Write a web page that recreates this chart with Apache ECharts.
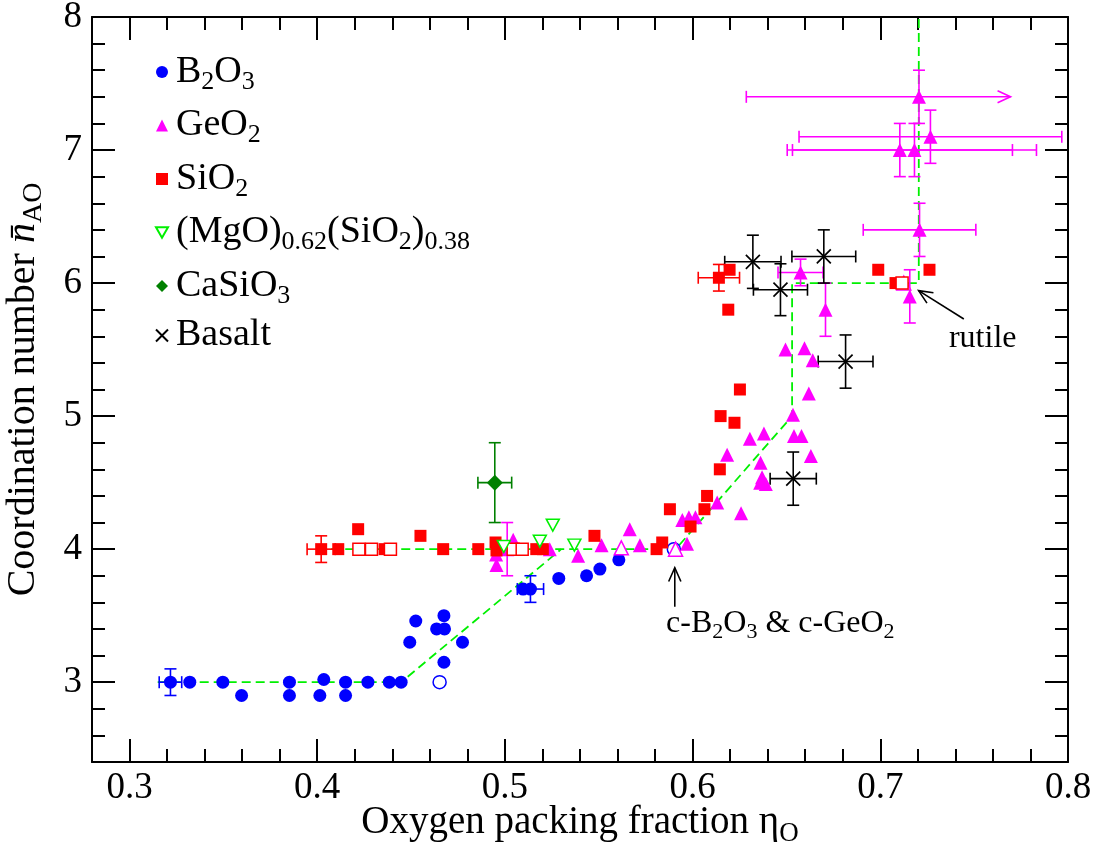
<!DOCTYPE html>
<html><head><meta charset="utf-8">
<script src="https://cdn.jsdelivr.net/npm/echarts@6/dist/echarts.min.js"></script>
<style>html,body{margin:0;padding:0;background:#fff}#c{width:1099px;height:854px}</style>
</head><body><div id="c"></div>
<script>
// ---------- data (x = oxygen packing fraction, y = coordination number) ----------
const b2o3 = [[0.3218,3.0],[0.3321,3.0],[0.3497,3.0],[0.3597,2.9],[0.3852,3.0],[0.3852,2.9],[0.4035,3.02],[0.4014,2.9],
  [0.4151,3.0],[0.4151,2.9],[0.427,3.0],[0.4384,3.0],[0.4447,3.0],[0.4493,3.3],[0.4525,3.46],[0.4636,3.4],[0.4678,3.4],
  [0.4675,3.5],[0.4774,3.3],[0.4675,3.15],[0.5097,3.7],[0.5136,3.7],[0.5287,3.78],[0.5435,3.8],[0.5506,3.85],[0.5607,3.92]];
const b2o3Open = [[0.4652,3.0],[0.590,4.0]];
const b2o3Err = [[0.3218,3.0,0.006,0.006,0.1,0.1,0],[0.5136,3.7,0.007,0.007,0.1,0.1,0]];

const geo2 = [[0.4955,3.88],[0.4953,3.96],[0.5044,4.07],[0.5012,4.0],[0.5239,4.0],[0.539,3.95],[0.5515,4.03],[0.5665,4.15],
  [0.5719,4.03],[0.597,4.04],[0.5945,4.22],[0.598,4.24],[0.6015,4.24],[0.6131,4.35],[0.6184,4.71],[0.6258,4.27],[0.6305,4.83],
  [0.638,4.87],[0.6362,4.65],[0.637,4.54],[0.636,4.5],[0.639,4.49],[0.6535,5.01],[0.654,4.85],[0.658,4.85],[0.663,4.7],
  [0.6495,5.5],[0.6596,5.51],[0.664,5.42],[0.6619,5.17],
  [0.7206,7.4],[0.7104,7.0],[0.7182,7.0],[0.7267,7.1],[0.7209,6.4],[0.7157,5.9],[0.6708,5.8],[0.6575,6.08]];
const geo2Open = [[0.562,4.01],[0.5909,4.0],[0.7125,6.0]];
const geo2Err = [[0.7206,7.4,0.092,0.0488,0.2,0.2,1],[0.7104,7.0,0.06,0.06,0.2,0.2,0],[0.7182,7.0,0.065,0.065,0.2,0.2,0],
  [0.7267,7.1,0.07,0.07,0.2,0.2,0],[0.7209,6.4,0.03,0.03,0.2,0.2,0],[0.7157,5.9,0,0,0.2,0.2,0],[0.6708,5.8,0,0,0.2,0.2,0],
  [0.6575,6.08,0.012,0.012,0.1,0.1,0],[0.5012,4.0,0,0,0.2,0.2,0]];

const sio2 = [[0.4021,4.0],[0.4112,4.0],[0.4218,4.15],[0.4359,4.0],[0.455,4.1],[0.4671,4.0],[0.4858,4.0],[0.495,4.05],
  [0.4955,3.99],[0.5167,4.0],[0.5202,4.0],[0.5477,4.1],[0.5808,4.0],[0.5838,4.05],[0.5879,4.3],[0.5989,4.17],[0.6063,4.3],
  [0.6077,4.4],[0.6145,4.6],[0.6149,5.0],[0.6223,4.95],[0.6252,5.2],[0.614,6.04],[0.6197,6.1],[0.619,5.8],[0.6989,6.1],
  [0.7081,6.0],[0.7262,6.1]];
const sio2Open = [[0.4222,4.0],[0.4289,4.0],[0.439,4.0],[0.5044,4.0],[0.5092,4.0],[0.7116,6.0]];
const sio2Err = [[0.4021,4.0,0.0075,0.0075,0.1,0.1,0],[0.614,6.04,0.011,0.011,0.1,0.1,0]];

const mgsio = [[0.4994,4.02],[0.5186,4.06],[0.5255,4.18],[0.537,4.03]];

const casio3 = [[0.4946,4.5]];
const casio3Err = [[0.4946,4.5,0.009,0.009,0.3,0.3,0]];

const basalt = [[0.6321,6.16],[0.6468,5.95],[0.6699,6.2],[0.6815,5.41],[0.6536,4.53]];
const basaltErr = [[0.6321,6.16,0.015,0.015,0.2,0.2,0],[0.6468,5.95,0.0144,0.0144,0.195,0.195,0],
  [0.6699,6.2,0.017,0.017,0.2,0.2,0],[0.6815,5.41,0.0146,0.0146,0.2,0.2,0],[0.6536,4.53,0.0123,0.0123,0.2,0.2,0]];

const guideLow = [[0.315,3.0],[0.4447,3.0],[0.53,4.0]];
const guideHigh = [[0.40,4.0],[0.591,4.0],[0.653,5.0],[0.653,6.0],[0.7205,6.0],[0.7205,8.0]];

const arrows = [[0.5905,3.567,0.5905,3.86],[0.7445,5.73,0.7204,5.943]];
const noteCB = [[0.5856,3.44]];
const noteRutile = [[0.7363,5.58]];

const xTickLabels = [0.3,0.4,0.5,0.6,0.7,0.8];
const yTickLabels = [3,4,5,6,7,8];
const xMinor = [0.32,0.34,0.36,0.38,0.42,0.44,0.46,0.48,0.52,0.54,0.56,0.58,0.62,0.64,0.66,0.68,0.72,0.74,0.76,0.78];
const yMinor = [2.6,2.8,3.2,3.4,3.6,3.8,4.2,4.4,4.6,4.8,5.2,5.4,5.6,5.8,6.2,6.4,6.6,6.8,7.2,7.4,7.6,7.8];

// ---------- styling ----------
const F = 'Liberation Serif';
const BLUE='#0000ff', MAG='#ff00ff', RED='#ff0000', LIME='#00f000', DKG='#008000', BLK='#000000';
const XMIN=0.28, XMAX=0.8, YMIN=2.4, YMAX=8;
const downTri = 'path://M0,0 L12,0 L6,10.4 Z';
const crossPath = 'path://M0,0 L10,10 M10,0 L0,10';

function errRender(color){
  return function(params, api){
    const x=api.value(0), y=api.value(1), dxm=api.value(2), dxp=api.value(3), dym=api.value(4), dyp=api.value(5), arr=api.value(6);
    const c=api.coord([x,y]); const st={stroke:color,lineWidth:1.6,fill:null}; const cap=6; const ch=[];
    const ln=(a,b,d,e)=>({type:'line',shape:{x1:a,y1:b,x2:d,y2:e},style:st});
    if(dxm>0||dxp>0){
      const l=api.coord([x-dxm,y])[0], r=api.coord([x+dxp,y])[0];
      ch.push(ln(l,c[1],r,c[1])); ch.push(ln(l,c[1]-cap,l,c[1]+cap));
      if(arr){ ch.push({type:'polyline',shape:{points:[[r-13,c[1]-6],[r,c[1]],[r-13,c[1]+6]]},style:st}); }
      else ch.push(ln(r,c[1]-cap,r,c[1]+cap));
    }
    if(dym>0||dyp>0){
      const b=api.coord([x,y-dym])[1], t=api.coord([x,y+dyp])[1];
      ch.push(ln(c[0],b,c[0],t)); ch.push(ln(c[0]-cap,b,c[0]+cap,b)); ch.push(ln(c[0]-cap,t,c[0]+cap,t));
    }
    return {type:'group',children:ch};
  };
}
function errSeries(data,color){
  return {type:'custom',data:data,renderItem:errRender(color),encode:{x:0,y:1},z:2,silent:true,clip:false};
}
function arrowRender(params, api){
  const p=api.coord([api.value(0),api.value(1)]), q=api.coord([api.value(2),api.value(3)]);
  const ang=Math.atan2(q[1]-p[1],q[0]-p[0]); const L=15, A=0.42;
  const w1=[q[0]-L*Math.cos(ang-A), q[1]-L*Math.sin(ang-A)], w2=[q[0]-L*Math.cos(ang+A), q[1]-L*Math.sin(ang+A)];
  const st={stroke:BLK,lineWidth:1.6,fill:null};
  return {type:'group',children:[
    {type:'line',shape:{x1:p[0],y1:p[1],x2:q[0],y2:q[1]},style:st},
    {type:'polyline',shape:{points:[w1,q,w2]},style:st}]};
}
function withOpen(filled, open, color){
  return filled.map(v=>({value:v})).concat(open.map(v=>({value:v,itemStyle:{color:'#ffffff',borderColor:color,borderWidth:1.5}})));
}
function axisBase(extra){ return Object.assign({type:'value',splitLine:{show:false},axisLabel:{show:false}}, extra); }

const legRich = {m:{fontFamily:F,fontSize:38,lineHeight:46,color:BLK},
                 s:{fontFamily:F,fontSize:26,lineHeight:26,padding:[20,0,0,0],color:BLK}};
const annRich = {m:{fontFamily:F,fontSize:32,lineHeight:40,color:BLK},
                 s:{fontFamily:F,fontSize:22,lineHeight:22,padding:[17,0,0,0],color:BLK}};
const legendNames = {
  'B2O3':'{m|B}{s|2}{m|O}{s|3}', 'GeO2':'{m|GeO}{s|2}', 'SiO2':'{m|SiO}{s|2}',
  'MgSiO':'{m|(MgO)}{s|0.62}{m|(SiO}{s|2}{m|)}{s|0.38}', 'CaSiO3':'{m|CaSiO}{s|3}', 'Basalt':'{m|Basalt}'
};

const axisLineStyle = {color:BLK,width:2};
const majorLen=23, minorLen=13;
const xTitleRich = {m:{fontFamily:F,fontSize:39,lineHeight:50,color:BLK},
      s:{fontFamily:F,fontSize:27,lineHeight:27,padding:[22,0,0,0],color:BLK}};
const yTitleRich = {m:{fontFamily:F,fontSize:40,lineHeight:50,color:BLK},i:{fontFamily:F,fontStyle:'italic',fontSize:40,lineHeight:50,color:BLK},
      s:{fontFamily:F,fontSize:28,lineHeight:28,padding:[22,0,0,0],color:BLK}};
const xAxes = [
  axisBase({min:XMIN,max:XMAX,position:'bottom',axisLine:{lineStyle:axisLineStyle},
    axisTick:{inside:true,length:majorLen,customValues:xTickLabels,lineStyle:{width:2,color:BLK}},
    axisLabel:{show:true,customValues:xTickLabels,fontFamily:F,fontSize:37,color:BLK,margin:8,formatter:v=>v.toFixed(1)},
    name:'{m|Oxygen packing fraction η}{s|O}',nameLocation:'middle',nameGap:36,nameMoveOverlap:false,nameTextStyle:{rich:xTitleRich}}),
  axisBase({min:XMIN,max:XMAX,position:'bottom',axisLine:{show:false},axisTick:{inside:true,length:minorLen,customValues:xMinor,lineStyle:{width:2,color:BLK}}}),
  axisBase({min:XMIN,max:XMAX,position:'top',axisLine:{lineStyle:axisLineStyle},axisTick:{inside:true,length:majorLen,customValues:xTickLabels,lineStyle:{width:2,color:BLK}}}),
  axisBase({min:XMIN,max:XMAX,position:'top',axisLine:{show:false},axisTick:{inside:true,length:minorLen,customValues:xMinor,lineStyle:{width:2,color:BLK}}})
];
const yAxes = [
  axisBase({min:YMIN,max:YMAX,position:'left',axisLine:{lineStyle:axisLineStyle},
    axisTick:{inside:true,length:majorLen,customValues:yTickLabels,lineStyle:{width:2,color:BLK}},
    axisLabel:{show:true,customValues:yTickLabels,fontFamily:F,fontSize:37,color:BLK,margin:10},
    name:'{m|Coordination number }{i|n̄}{s|AO}',nameLocation:'middle',nameGap:44,nameRotate:90,nameTextStyle:{rich:yTitleRich}}),
  axisBase({min:YMIN,max:YMAX,position:'left',axisLine:{show:false},axisTick:{inside:true,length:minorLen,customValues:yMinor,lineStyle:{width:2,color:BLK}}}),
  axisBase({min:YMIN,max:YMAX,position:'right',axisLine:{lineStyle:axisLineStyle},axisTick:{inside:true,length:majorLen,customValues:yTickLabels,lineStyle:{width:2,color:BLK}}}),
  axisBase({min:YMIN,max:YMAX,position:'right',axisLine:{show:false},axisTick:{inside:true,length:minorLen,customValues:yMinor,lineStyle:{width:2,color:BLK}}})
];

const chart = echarts.init(document.getElementById('c'), null, {renderer:'canvas'});
chart.setOption({
  animation:false,
  backgroundColor:'#ffffff',
  grid:{left:92,top:17,right:31,bottom:92,containLabel:false,outerBoundsMode:'none'},
  xAxis:xAxes, yAxis:yAxes,
  legend:{orient:'vertical',left:150,top:44,itemWidth:12,itemHeight:12,itemGap:7.5,
    textStyle:{fontFamily:F,fontSize:38,color:BLK,padding:[0,0,0,3],rich:legRich},
    formatter:n=>legendNames[n],selectedMode:false,
    data:[{name:'B2O3',icon:'circle'},{name:'GeO2',icon:'triangle'},{name:'SiO2',icon:'rect'},
      {name:'MgSiO',icon:downTri},{name:'CaSiO3',icon:'diamond'},{name:'Basalt',icon:crossPath}]},
  series:[
    {name:'guideLow',type:'line',data:guideLow,showSymbol:false,symbol:'none',lineStyle:{color:LIME,width:1.8,type:[9,5]},z:1,silent:true},
    {name:'guideHigh',type:'line',data:guideHigh,showSymbol:false,symbol:'none',lineStyle:{color:LIME,width:1.8,type:[9,5]},z:1,silent:true},
    errSeries(b2o3Err,BLUE), errSeries(geo2Err,MAG), errSeries(sio2Err,RED), errSeries(casio3Err,DKG), errSeries(basaltErr,BLK),
    {name:'B2O3',type:'scatter',symbol:'circle',symbolSize:13,itemStyle:{color:BLUE,opacity:1},data:withOpen(b2o3,b2o3Open,BLUE),z:3},
    {name:'GeO2',type:'scatter',symbol:'triangle',symbolSize:14,itemStyle:{color:MAG,opacity:1},data:withOpen(geo2,geo2Open,MAG),z:3},
    {name:'SiO2',type:'scatter',symbol:'rect',symbolSize:12,itemStyle:{color:RED,opacity:1},data:withOpen(sio2,sio2Open,RED),z:3},
    {name:'MgSiO',type:'scatter',symbol:downTri,symbolSize:[13,12],itemStyle:{color:'#ffffff',borderColor:LIME,borderWidth:1.5,opacity:1},data:mgsio,z:3},
    {name:'CaSiO3',type:'scatter',symbol:'diamond',symbolSize:16,itemStyle:{color:DKG,opacity:1},data:casio3,z:3},
    {name:'Basalt',type:'scatter',symbol:crossPath,symbolSize:14,itemStyle:{color:'rgba(0,0,0,0)',borderColor:BLK,borderWidth:1.7,opacity:1},data:basalt,z:3},
    {type:'custom',data:arrows,renderItem:arrowRender,encode:{x:[0,2],y:[1,3]},z:4,silent:true},
    {type:'scatter',data:noteCB,symbolSize:1,itemStyle:{color:'rgba(0,0,0,0)',opacity:1},silent:true,z:4,
      label:{show:true,position:'right',distance:0,color:BLK,rich:annRich,formatter:'{m|c-B}{s|2}{m|O}{s|3}{m| & c-GeO}{s|2}'}},
    {type:'scatter',data:noteRutile,symbolSize:1,itemStyle:{color:'rgba(0,0,0,0)',opacity:1},silent:true,z:4,
      label:{show:true,position:'right',distance:0,color:BLK,rich:annRich,formatter:'{m|rutile}'}}
  ]
});
</script></body></html>
